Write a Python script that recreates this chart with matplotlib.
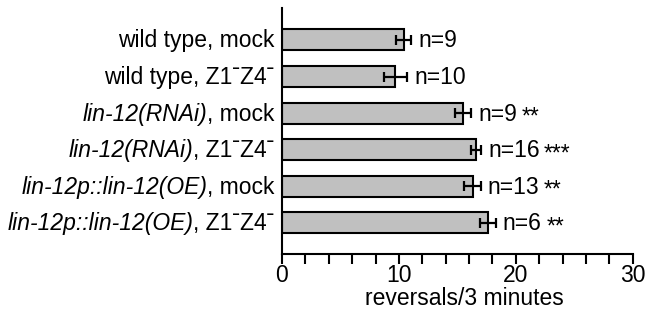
import matplotlib
matplotlib.use("Agg")
import matplotlib.pyplot as plt
from matplotlib.ticker import MultipleLocator

plt.rcParams['font.family'] = ['Liberation Sans', 'DejaVu Sans']

# ---- data ----
label_italic = ["", "", "lin-12(RNAi)", "lin-12(RNAi)",
                "lin-12p::lin-12(OE)", "lin-12p::lin-12(OE)"]
label_regular = ["wild type, mock", "wild type, Z1\u02c9Z4\u02c9", ", mock",
                 ", Z1\u02c9Z4\u02c9", ", mock", ", Z1\u02c9Z4\u02c9"]
means = [10.4, 9.7, 15.5, 16.6, 16.3, 17.6]
sems = [0.65, 1.0, 0.7, 0.43, 0.7, 0.7]
n_labels = ["n=9", "n=10", "n=9", "n=16", "n=13", "n=6"]
stars = ["", "", "**", "***", "**", "**"]
x_ticks = [0, 10, 20, 30]
x_label = "reversals/3 minutes"

DPI = 100
fig = plt.figure(figsize=(6.46, 3.10), dpi=DPI)
ax = fig.add_axes([282 / 646, 56 / 310, (632.7 - 282) / 646, (254 - 8) / 310])

ypos = list(range(len(means)))
ax.barh(ypos, means, height=0.575, color='#c0c0c0', edgecolor='black',
        linewidth=1.5, zorder=2)
ax.errorbar(means, ypos, xerr=sems, fmt='none', ecolor='black',
            elinewidth=1.6, capsize=3.8, capthick=1.6, zorder=3)

ax.set_xlim(0, 30)
ax.set_ylim(5.85, -0.874)
ax.set_xticks(x_ticks)
ax.set_xticklabels([str(t) for t in x_ticks])
ax.xaxis.set_minor_locator(MultipleLocator(2))
ax.tick_params(axis='x', which='both', direction='out', length=7, width=1.5,
               labelsize=16.5, pad=0.5, color='black')
ax.set_yticks([])
for s in ['top', 'right']:
    ax.spines[s].set_visible(False)
for s in ['left', 'bottom']:
    ax.spines[s].set_linewidth(1.5)
ax.set_xlabel(x_label, fontsize=16.5, labelpad=-0.5)
ax.xaxis.label.set_x(0.5 + 7 / 351)

FS = 16.5
BASE_DY = -5.4
n_texts = []
for yi, m, s, n in zip(ypos, means, sems, n_labels):
    t = ax.annotate(n, xy=(m + s, yi), xytext=(5, BASE_DY),
                    textcoords='offset points', ha='left', va='baseline',
                    fontsize=FS)
    n_texts.append(t)

reg_texts = []
for yi, reg in zip(ypos, label_regular):
    t = ax.annotate(reg, xy=(0, yi), xytext=(-5.3, BASE_DY),
                    textcoords='offset points', ha='right', va='baseline',
                    fontsize=FS)
    reg_texts.append(t)

fig.canvas.draw()
renderer = fig.canvas.get_renderer()

for yi, m, s, st, t in zip(ypos, means, sems, stars, n_texts):
    if st:
        w_pt = t.get_window_extent(renderer).width * 72 / DPI
        ax.annotate(st, xy=(m + s, yi), xytext=(5 + w_pt + 3.2, BASE_DY - 2.3),
                    textcoords='offset points', ha='left', va='baseline',
                    fontsize=FS)

for yi, it, t in zip(ypos, label_italic, reg_texts):
    if it:
        w_pt = t.get_window_extent(renderer).width * 72 / DPI
        ax.annotate(it, xy=(0, yi), xytext=(-5.3 - w_pt, BASE_DY),
                    textcoords='offset points', ha='right', va='baseline',
                    fontsize=FS, fontstyle='italic')

fig.savefig("out.png", dpi=DPI)
